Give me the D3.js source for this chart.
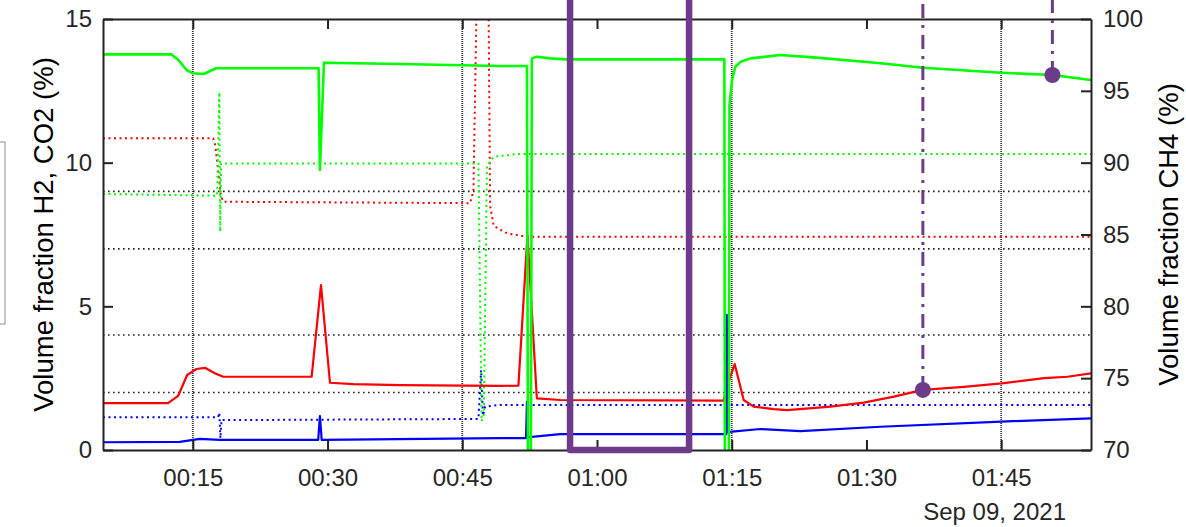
<!DOCTYPE html>
<html>
<head>
<meta charset="utf-8">
<script src="https://cdn.jsdelivr.net/npm/d3@7"></script>
<style>
  body { margin: 0; background: #fff; }
  svg { display: block; font-family: "Liberation Sans", Arial, sans-serif; }
</style>
</head>
<body>
<svg id="chart"></svg>
<script>
// times are minutes after 00:00 on Sep 09, 2021
const ch4Minutes = [5, 12.6, 13.4, 14.3, 15.0, 16.2, 17.6, 29.0, 29.15, 29.6, 38.1, 49.2, 52.2, 52.35, 52.6, 52.75, 53.3, 54.8, 56.6,
    74.18, 74.25, 74.65, 74.75, 75.04, 75.4, 76.0, 77.1, 80.4, 84.1, 91.6, 96.3, 105.0, 110.7, 115];
const ch4Values = [97.54, 97.55, 97.15, 96.45, 96.22, 96.17, 96.57, 96.57, 89.5, 96.96, 96.87, 96.73, 96.73, 60, 60, 97.26, 97.37, 97.26, 97.19,
    97.19, 60, 60, 94.0, 95.75, 96.68, 97.03, 97.26, 97.49, 97.33, 96.92, 96.61, 96.26, 96.10, 95.75];

const h2Minutes = [5, 12.25, 13.36, 14.37, 15.41, 16.34, 17.45, 18.38, 28.23, 29.27, 30.27, 32.87, 38.07, 49.22, 51.25, 52.26, 53.3, 55.9,
    74.1, 74.4, 75.33, 76.33, 77.45, 79.67, 81.17, 86.0, 89.7, 93.05, 96.28, 100.85, 105.05, 109.76, 112.37, 115];
const h2Values = [1.63, 1.63, 1.88, 2.61, 2.82, 2.86, 2.67, 2.55, 2.55, 5.74, 2.34, 2.29, 2.26, 2.23, 2.24, 7.48, 1.80, 1.74,
    1.72, 2.15, 2.99, 1.74, 1.51, 1.42, 1.39, 1.51, 1.65, 1.86, 2.09, 2.20, 2.32, 2.50, 2.55, 2.67];

const co2Minutes = [5, 13.55, 15.78, 18.01, 28.96, 29.15, 29.35, 49.22, 52.1, 52.2, 52.3, 52.75, 55.9,
    74.4, 74.45, 74.55, 75.04, 78.19, 82.65, 91.56, 105.05, 115];
const co2Values = [0.27, 0.28, 0.39, 0.35, 0.35, 1.18, 0.35, 0.41, 0.41, 1.68, 0.45, 0.46, 0.55,
    0.55, 4.70, 0.62, 0.64, 0.73, 0.66, 0.81, 0.99, 1.10];

// second analyser, drawn dotted
const ch4RefMinutes = [5, 17.7, 17.95, 18.05, 18.15, 46.8, 47.15, 47.4, 47.75, 48.5, 51, 115];
const ch4RefValues = [87.82, 87.7, 94.9, 85.2, 89.95, 89.95, 72.0, 72.5, 89.8, 90.41, 90.6, 90.6];

const h2RefMinutes = [5, 17.26, 17.5, 17.79, 18.1, 18.38, 45.87, 46.24, 46.65, 47.9, 48.1, 48.5, 50.0, 52.2, 115];
const h2RefValues = [10.85, 10.85, 10.6, 9.8, 8.9, 8.64, 8.59, 9.0, 16.5, 16.5, 8.5, 7.8, 7.54, 7.42, 7.42];

const co2RefMinutes = [5, 17.82, 17.95, 18.07, 18.2, 18.76, 46.8, 47.1, 47.3, 47.55, 49.2, 115];
const co2RefValues = [1.14, 1.14, 1.30, 0.41, 1.05, 1.04, 1.08, 2.78, 1.2, 1.51, 1.57, 1.57];

// limit lines (left axis units)
const limitValues = [2, 4, 7, 9];

const xTickMinutes = [15, 30, 45, 60, 75, 90, 105];
const xGridMinutes = [15, 45, 75, 105];
const leftTicks = [0, 5, 10, 15];
const rightTicks = [70, 75, 80, 85, 90, 95, 100];

// highlighted window and two marked readings
const windowMinutes = [57, 70.25];
const windowValues = [0, 17];
const markerMinutes = [96.28, 110.7];
const markerValues = [2.09, 96.1];
const markerAxis = ['left', 'right'];

const svgWidth = 1186, svgHeight = 527;
const margin = { top: 19, right: 95, bottom: 77, left: 103 };
const width = svgWidth - margin.left - margin.right;
const height = svgHeight - margin.top - margin.bottom;

const base = new Date(2021, 8, 9, 0, 0, 0).getTime();
const toDate = m => new Date(base + m * 60000);

const svg = d3.select('#chart')
    .attr('width', svgWidth)
    .attr('height', svgHeight);

// edge of the legend box, mostly off the page
svg.append('rect')
    .attr('x', -200).attr('y', 142)
    .attr('width', 205).attr('height', 182)
    .attr('fill', '#fff')
    .attr('stroke', '#8c8c8c')
    .attr('stroke-width', 1);

const g = svg.append('g')
    .attr('transform', `translate(${margin.left},${margin.top})`);

const x = d3.scaleTime()
    .domain([toDate(5), toDate(115)])
    .range([0, width]);

const yL = d3.scaleLinear().domain([0, 15]).range([height, 0]);
const yR = d3.scaleLinear().domain([70, 100]).range([height, 0]);

g.append('clipPath').attr('id', 'plot-clip')
    .append('rect').attr('width', width).attr('height', height);

// grid
g.append('g').selectAll('line')
    .data(xGridMinutes)
    .enter().append('line')
    .attr('x1', d => x(toDate(d))).attr('x2', d => x(toDate(d)))
    .attr('y1', 0).attr('y2', height)
    .attr('stroke', '#333')
    .attr('stroke-width', 1.8)
    .attr('stroke-dasharray', '1,1');

g.append('g').selectAll('line')
    .data(limitValues)
    .enter().append('line')
    .attr('x1', 0).attr('x2', width)
    .attr('y1', d => yL(d)).attr('y2', d => yL(d))
    .attr('stroke', '#222')
    .attr('stroke-width', 1.6)
    .attr('stroke-dasharray', '1.6,3.4');

const series = [
    { t: co2RefMinutes, v: co2RefValues, axis: yL, color: '#0000ff', dotted: true },
    { t: h2RefMinutes, v: h2RefValues, axis: yL, color: '#ff0000', dotted: true },
    { t: ch4RefMinutes, v: ch4RefValues, axis: yR, color: '#00ff00', dotted: true },
    { t: h2Minutes, v: h2Values, axis: yL, color: '#ff0000', dotted: false, w: 2.2 },
    { t: co2Minutes, v: co2Values, axis: yL, color: '#0000ff', dotted: false, w: 2.2 },
    { t: ch4Minutes, v: ch4Values, axis: yR, color: '#00ff00', dotted: false, w: 2.6 }
];

const lines = g.append('g').attr('clip-path', 'url(#plot-clip)');

series.forEach(s => {
    const pts = s.t.map((m, i) => [toDate(m), s.v[i]]);
    const line = d3.line()
        .x(d => x(d[0]))
        .y(d => s.axis(d[1]));
    lines.append('path')
        .datum(pts)
        .attr('d', line)
        .attr('fill', 'none')
        .attr('stroke', s.color)
        .attr('stroke-width', s.dotted ? 2 : s.w)
        .attr('stroke-dasharray', s.dotted ? '2,3.5' : null)
        .attr('stroke-linejoin', 'round');
});

// axes
const fmt = d3.timeFormat('%H:%M');

g.append('g')
    .attr('transform', `translate(0,${height})`)
    .call(d3.axisBottom(x)
        .tickValues(xTickMinutes.map(toDate))
        .tickFormat(fmt)
        .tickSizeInner(-10).tickSizeOuter(0).tickPadding(19));

g.append('g')
    .call(d3.axisTop(x)
        .tickValues(xTickMinutes.map(toDate))
        .tickFormat('')
        .tickSizeInner(-10).tickSizeOuter(0));

g.append('g')
    .call(d3.axisLeft(yL)
        .tickValues(leftTicks)
        .tickSizeInner(-10).tickSizeOuter(0).tickPadding(11));

g.append('g')
    .attr('transform', `translate(${width},0)`)
    .call(d3.axisRight(yR)
        .tickValues(rightTicks)
        .tickSizeInner(-10).tickSizeOuter(0).tickPadding(12));

g.selectAll('.domain').attr('stroke', '#222').attr('stroke-width', 2);
g.selectAll('.tick line').attr('stroke', '#222').attr('stroke-width', 2);
g.selectAll('.tick text')
    .attr('fill', '#262626')
    .style('font-size', '24px')
    .style('font-family', '"Liberation Sans", Arial, sans-serif');

// purple annotations
const purple = '#6c3b8a';
const windowPts = [
    [windowMinutes[0], windowValues[1]], [windowMinutes[0], windowValues[0]],
    [windowMinutes[1], windowValues[0]], [windowMinutes[1], windowValues[1]]
];
g.append('path')
    .datum(windowPts)
    .attr('d', d3.line().x(d => x(toDate(d[0]))).y(d => yL(d[1])))
    .attr('fill', 'none')
    .attr('stroke', purple)
    .attr('stroke-width', 6.5)
    .attr('stroke-linejoin', 'round')
    .attr('stroke-linecap', 'round');

markerMinutes.forEach((m, i) => {
    const cx = x(toDate(m));
    const cy = markerAxis[i] === 'left' ? yL(markerValues[i]) : yR(markerValues[i]);
    g.append('line')
        .attr('x1', cx).attr('x2', cx)
        .attr('y1', cy).attr('y2', -margin.top - 5)
        .attr('stroke', purple)
        .attr('stroke-width', 3)
        .attr('stroke-dasharray', '14,7,3,7');
    g.append('circle')
        .attr('cx', cx).attr('cy', cy).attr('r', 8)
        .attr('fill', purple);
});

// labels
svg.append('text')
    .attr('transform', `translate(43,${margin.top + height / 2}) rotate(-90)`)
    .attr('text-anchor', 'middle')
    .attr('dy', '0.35em')
    .attr('fill', '#000')
    .style('font-size', '27.5px')
    .text('Volume fraction H2, CO2 (%)');

svg.append('text')
    .attr('transform', `translate(1168,${margin.top + height / 2}) rotate(-90)`)
    .attr('text-anchor', 'middle')
    .attr('dy', '0.35em')
    .attr('fill', '#000')
    .style('font-size', '27.5px')
    .text('Volume fraction CH4 (%)');

svg.append('text')
    .attr('x', 1066).attr('y', 520)
    .attr('text-anchor', 'end')
    .attr('fill', '#262626')
    .style('font-size', '24px')
    .text('Sep 09, 2021');
</script>
</body>
</html>
